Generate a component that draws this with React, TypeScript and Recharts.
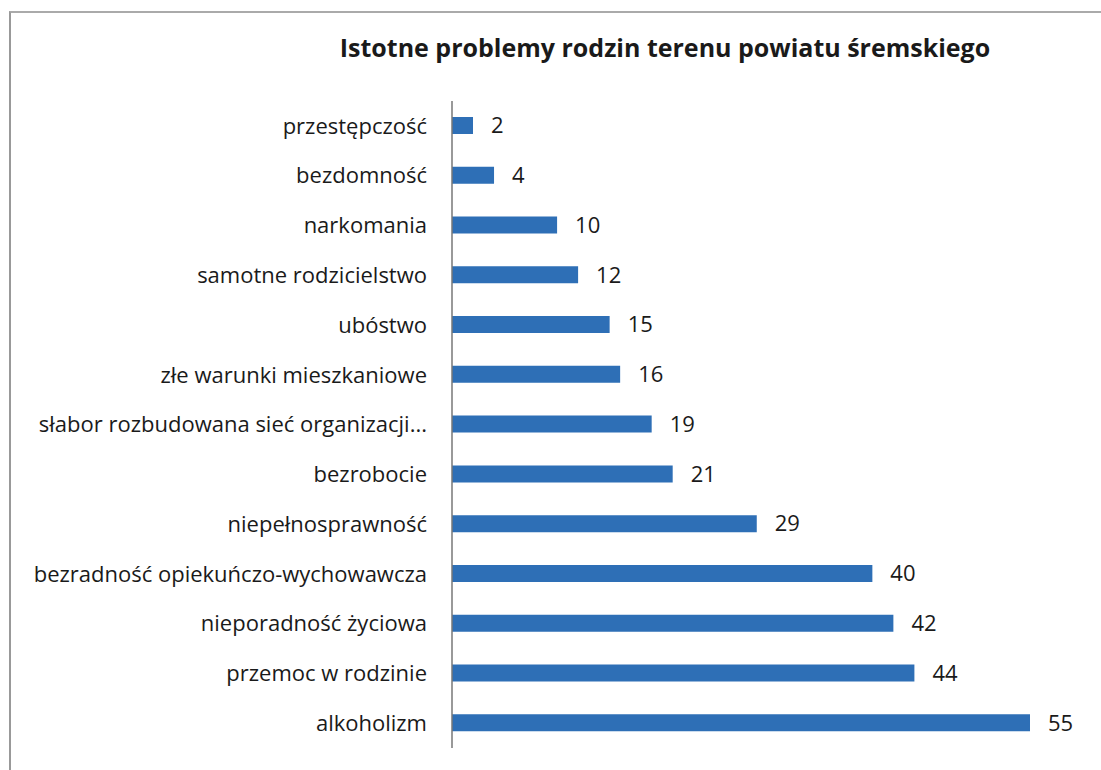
import React from "react";
import { BarChart, Bar, XAxis, YAxis, LabelList } from "recharts";

const problems = [
  "przestępczość",
  "bezdomność",
  "narkomania",
  "samotne rodzicielstwo",
  "ubóstwo",
  "złe warunki mieszkaniowe",
  "słabor rozbudowana sieć organizacji...",
  "bezrobocie",
  "niepełnosprawność",
  "bezradność opiekuńczo-wychowawcza",
  "nieporadność życiowa",
  "przemoc w rodzinie",
  "alkoholizm",
];
const counts = [2, 4, 10, 12, 15, 16, 19, 21, 29, 40, 42, 44, 55];

const data = problems.map((name, i) => ({ name, value: counts[i] }));

const font = "'Open Sans', 'Noto Sans', sans-serif";

export default function App() {
  return (
    <div
      style={{
        position: "absolute",
        left: 0,
        top: 0,
        width: 1101,
        height: 770,
        background: "#fff",
        overflow: "hidden",
        fontFamily: font,
      }}
    >
      {/* scanned frame edge */}
      <div
        style={{
          position: "absolute",
          left: 9,
          top: 11,
          width: 1200,
          height: 800,
          borderTop: "2px solid #aaa",
          borderLeft: "2px solid #999",
        }}
      />
      <div
        style={{
          position: "absolute",
          left: 230,
          top: 30,
          width: 870,
          textAlign: "center",
          fontSize: 25,
          fontWeight: 700,
          color: "#1a1a1a",
        }}
      >
        Istotne problemy rodzin terenu powiatu śremskiego
      </div>
      <div style={{ position: "absolute", left: 0, top: 0 }}>
        <BarChart
          width={1101}
          height={770}
          data={data}
          layout="vertical"
          margin={{ top: 101, right: 71, bottom: 22, left: 0 }}
        >
          <XAxis type="number" domain={[0, 55]} hide />
          <YAxis
            type="category"
            dataKey="name"
            width={452}
            axisLine={{ stroke: "#777", strokeWidth: 1.5 }}
            tickLine={false}
            tickSize={0}
            tickMargin={25}
            interval={0}
            tick={{ fill: "#1a1a1a", fontSize: 22, fontFamily: font }}
          />
          <Bar dataKey="value" fill="#2e6fb6" barSize={17} isAnimationActive={false}>
            <LabelList
              dataKey="value"
              position="right"
              offset={18}
              fill="#1a1a1a"
              fontSize={22}
              fontFamily={font}
            />
          </Bar>
        </BarChart>
      </div>
    </div>
  );
}
